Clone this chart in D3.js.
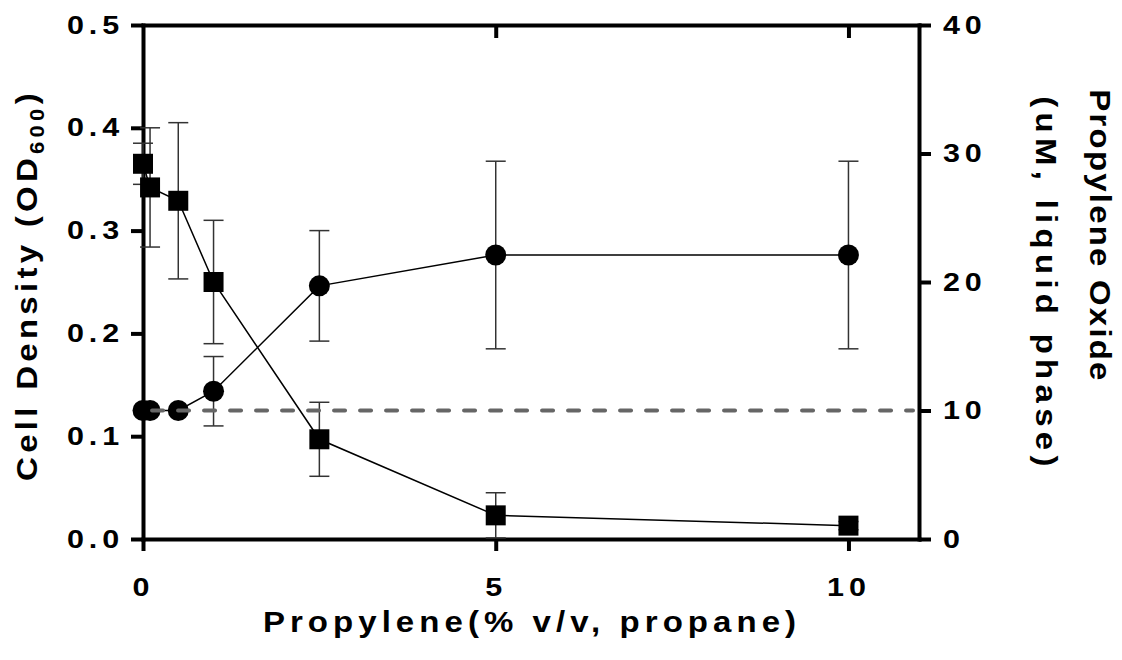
<!DOCTYPE html>
<html>
<head>
<meta charset="utf-8">
<script src="https://cdn.jsdelivr.net/npm/d3@7"></script>
<style>
  body { margin: 0; background: #fff; }
  text { font-family: "Liberation Sans", Arial, sans-serif; font-weight: bold; fill: #000; }
</style>
</head>
<body>
<svg id="chart" width="1122" height="660"></svg>
<script>
// Propylene content of the feed gas (% v/v in propane)
const propylene = [0, 0.1, 0.5, 1, 2.5, 5, 10];
// Cell density (OD600), mean and error
const cellDensity = [0.365, 0.342, 0.329, 0.250, 0.097, 0.023, 0.013];
const cellDensityErr = [0.020, 0.058, 0.076, 0.060, 0.036, 0.022, 0.004];
// Propylene oxide in the liquid phase (uM), mean and error
const propyleneOxide = [10.0, 10.0, 10.0, 11.5, 19.7, 22.1, 22.1];
const propyleneOxideErr = [0, 0, 0, 2.7, 4.3, 7.3, 7.3];
// Tick labels
const xTicks = [0, 5, 10];
const leftTicks = [0, 0.1, 0.2, 0.3, 0.4, 0.5];
const rightTicks = [0, 10, 20, 30, 40];
// Dashed reference level on the propylene oxide axis
const referenceLevel = 10;
const referenceSpan = [0.1, 11];

const svg = d3.select("#chart");
const plotLeft = 143, plotRight = 919, plotTop = 25, plotBottom = 539;
const tickStretch = 1.22, titleStretch = 1.1;   // wide lettering
const tickFont = 25, titleFont = 30;

const x = d3.scaleLinear().domain([0, 11]).range([plotLeft, plotRight]);
const yL = d3.scaleLinear().domain([0, 0.5]).range([plotBottom, plotTop]);
const yR = d3.scaleLinear().domain([0, 40]).range([plotBottom, plotTop]);

function styleAxis(g) {
  g.select(".domain").attr("stroke", "#000").attr("stroke-width", 4).attr("stroke-linecap", "square");
  g.selectAll(".tick line").attr("stroke", "#000").attr("stroke-width", 4);
  g.selectAll(".tick text")
    .style("font-family", '"Liberation Sans", Arial, sans-serif')
    .style("font-weight", "bold")
    .style("font-size", tickFont + "px")
    .style("letter-spacing", "4px")
    .attr("fill", "#000")
    .each(function () {
      const t = d3.select(this);
      const tx = +t.attr("x") || 0, ty = +t.attr("y") || 0;
      t.attr("x", null).attr("y", null)
        .attr("transform", `translate(${tx},${ty}) scale(${tickStretch},1)`);
    });
}

// Axes
svg.append("g").attr("transform", `translate(0,${plotBottom})`)
  .call(d3.axisBottom(x).tickValues(xTicks).tickSize(12).tickSizeOuter(0).tickPadding(27))
  .call(styleAxis);
svg.append("g").attr("transform", `translate(0,${plotTop})`)
  .call(d3.axisBottom(x).tickValues([5, 10]).tickSize(13).tickSizeOuter(0).tickFormat(""))
  .call(styleAxis);
svg.append("g").attr("transform", `translate(${plotLeft},0)`)
  .call(d3.axisLeft(yL).tickValues(leftTicks).tickSize(12).tickSizeOuter(0).tickPadding(7).tickFormat(d3.format(".1f")))
  .call(styleAxis);
svg.append("g").attr("transform", `translate(${plotRight},0)`)
  .call(d3.axisRight(yR).tickValues(rightTicks).tickSize(12).tickSizeOuter(0).tickPadding(12))
  .call(styleAxis);

const od = propylene.map((p, i) => ({ p, v: cellDensity[i], e: cellDensityErr[i] }));
const po = propylene.map((p, i) => ({ p, v: propyleneOxide[i], e: propyleneOxideErr[i] }));

// Error bars
function errorBars(data, y) {
  const g = svg.append("g").attr("stroke", "#333").attr("stroke-width", 1.5).attr("fill", "none");
  data.filter(d => d.e > 0).forEach(d => {
    const cx = x(d.p), y0 = y(d.v - d.e), y1 = y(d.v + d.e);
    g.append("line").attr("x1", cx).attr("x2", cx).attr("y1", y0).attr("y2", y1);
    g.append("line").attr("x1", cx - 10).attr("x2", cx + 10).attr("y1", y0).attr("y2", y0);
    g.append("line").attr("x1", cx - 10).attr("x2", cx + 10).attr("y1", y1).attr("y2", y1);
  });
}
errorBars(od, yL);
errorBars(po, yR);

// Connecting lines
svg.append("path").datum(od).attr("fill", "none").attr("stroke", "#000").attr("stroke-width", 1.5)
  .attr("d", d3.line().x(d => x(d.p)).y(d => yL(d.v)));
svg.append("path").datum(po).attr("fill", "none").attr("stroke", "#000").attr("stroke-width", 1.5)
  .attr("d", d3.line().x(d => x(d.p)).y(d => yR(d.v)));

// Markers
svg.append("g").selectAll("path").data(po).join("path")
  .attr("transform", d => `translate(${x(d.p)},${yR(d.v)})`)
  .attr("d", d3.symbol().type(d3.symbolCircle).size(Math.PI * 10.5 * 10.5))
  .attr("fill", "#000");
svg.append("g").selectAll("path").data(od).join("path")
  .attr("transform", d => `translate(${x(d.p)},${yL(d.v)})`)
  .attr("d", d3.symbol().type(d3.symbolSquare).size(400))
  .attr("fill", "#000");

// Dashed reference line
svg.append("line")
  .attr("x1", x(referenceSpan[0]) + 2).attr("x2", x(referenceSpan[1]) - 6)
  .attr("y1", yR(referenceLevel)).attr("y2", yR(referenceLevel))
  .attr("stroke", "#666").attr("stroke-width", 4)
  .attr("stroke-linecap", "round").attr("stroke-dasharray", "11,15");

// Axis titles
function title(transform, anchor, spacing) {
  return svg.append("text")
    .attr("transform", `${transform} scale(${titleStretch},1)`)
    .attr("text-anchor", anchor)
    .style("font-size", titleFont + "px")
    .style("letter-spacing", spacing + "px");
}

title("translate(532,632)", "middle", 4.6).text("Propylene(% v/v, propane)");

const lt = title("translate(37,285) rotate(-90)", "middle", 3.9);
lt.append("tspan").text("Cell Density (OD");
lt.append("tspan").attr("dy", 7).style("font-size", "20px").text("600");
lt.append("tspan").attr("dy", -7).text(")");

title("translate(1090,236) rotate(90)", "middle", 2.0).text("Propylene Oxide");
title("translate(1036,284) rotate(90)", "middle", 4.8).text("(uM, liquid phase)");
</script>
</body>
</html>
